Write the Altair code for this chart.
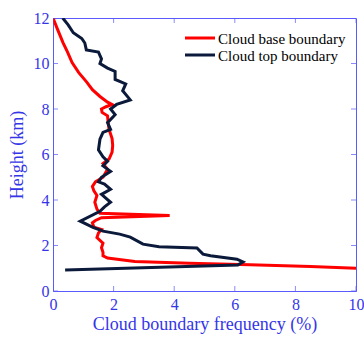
import altair as alt
import pandas as pd

# Cloud base boundary profile (height in km, frequency in %)
base_height = [12.0, 11.5, 10.92, 10.5, 10.04, 9.6, 9.17, 8.85, 8.55, 8.3, 8.2, 8.1, 8.0,
               7.85, 7.7, 7.4, 7.1, 6.7, 6.4, 6.1, 5.8, 5.6, 5.35, 5.0, 4.8, 4.6, 4.4,
               4.2, 3.9, 3.6, 3.42, 3.32, 3.22, 3.1, 3.0, 2.8, 2.7, 2.55, 2.35, 2.1,
               1.9, 1.7, 1.55, 1.45, 1.3, 1.22, 1.15, 1.08, 1.0]
base_freq = [0.0, 0.15, 0.33, 0.48, 0.63, 0.85, 1.12, 1.3, 1.55, 1.8, 1.95, 1.75, 1.6,
             1.62, 1.8, 1.82, 1.85, 1.95, 1.97, 1.95, 1.85, 1.65, 1.8, 1.65, 1.4, 1.3, 1.35,
             1.45, 1.38, 1.45, 1.55, 3.85, 1.6, 1.4, 1.3, 1.35, 1.6, 1.5, 1.45, 1.65,
             1.6, 1.65, 1.65, 1.8, 2.7, 4.5, 6.5, 8.5, 10.0]

# Cloud top boundary profile
top_height = [12.0, 11.7, 11.35, 11.1, 10.9, 10.6, 10.5, 10.2, 10.0, 9.8, 9.65, 9.3, 9.1,
              8.8, 8.4, 8.2, 8.0, 7.75, 7.4, 7.1, 6.97, 6.67, 6.2, 5.9, 5.7, 5.5, 5.26,
              5.0, 4.8, 4.7, 4.47, 4.25, 3.9, 3.7, 3.5, 3.07, 2.8, 2.63, 2.5, 2.37, 2.06,
              1.95, 1.89, 1.62, 1.55, 1.4, 1.28, 1.14, 0.92]
top_freq = [0.32, 0.5, 0.67, 0.95, 1.05, 1.1, 1.5, 1.6, 1.55, 1.8, 2.05, 2.05, 2.4,
            2.3, 2.55, 2.1, 1.9, 2.05, 1.8, 1.9, 1.65, 1.55, 1.5, 1.65, 1.8, 1.65, 1.9,
            1.6, 1.5, 1.7, 1.9, 1.6, 1.9, 1.7, 1.55, 0.9, 1.32, 1.65, 2.2, 2.55, 2.97,
            3.5, 4.75, 4.95, 5.2, 6.07, 6.27, 6.1, 0.4]

series_names = ["Cloud base boundary", "Cloud top boundary"]
series_colors = ["#ff0000", "#0b1a3a"]

x_ticks = [0, 2, 4, 6, 8, 10]
y_ticks = [0, 2, 4, 6, 8, 10, 12]

AXIS_BLUE = "#5a5aff"
LABEL_BLUE = "#3535e8"
FONT = "Liberation Serif, Times New Roman, serif"

rows = []
for i, (h, v) in enumerate(zip(base_height, base_freq)):
    rows.append({"series": series_names[0], "order": i, "height": h, "freq": v})
for i, (h, v) in enumerate(zip(top_height, top_freq)):
    rows.append({"series": series_names[1], "order": i, "height": h, "freq": v})
df = pd.DataFrame(rows)

x_scale = alt.Scale(domain=[0, 10], nice=False, zero=False)
y_scale = alt.Scale(domain=[0, 12], nice=False, zero=False)
color_scale = alt.Scale(domain=series_names, range=series_colors)

lines = alt.Chart(df).mark_line(strokeWidth=3, clip=True).encode(
    x=alt.X("freq:Q", scale=x_scale,
            axis=alt.Axis(title="Cloud boundary frequency (%)", values=x_ticks,
                          labelFlush=False, labelOverlap=False,
                          labelPadding=5, titlePadding=3)),
    y=alt.Y("height:Q", scale=y_scale,
            axis=alt.Axis(title="Height (km)", values=y_ticks,
                          labelFlush=False, labelOverlap=False,
                          labelPadding=4, titlePadding=7)),
    color=alt.Color("series:N", scale=color_scale, legend=None),
    order="order:Q",
)

# Inward tick marks on all four sides of the frame
xt = pd.DataFrame({"v": x_ticks})
yt = pd.DataFrame({"v": y_ticks})
tick_style = dict(orient="vertical", size=10, thickness=1, color=AXIS_BLUE, clip=True)
bottom_ticks = alt.Chart(xt).mark_tick(**tick_style).encode(
    x=alt.X("v:Q", scale=x_scale), y=alt.datum(0, scale=y_scale))
top_ticks = alt.Chart(xt).mark_tick(**tick_style).encode(
    x=alt.X("v:Q", scale=x_scale), y=alt.datum(12, scale=y_scale))
htick_style = dict(orient="horizontal", size=10, thickness=1, color=AXIS_BLUE, clip=True)
left_ticks = alt.Chart(yt).mark_tick(**htick_style).encode(
    y=alt.Y("v:Q", scale=y_scale), x=alt.datum(0, scale=x_scale))
right_ticks = alt.Chart(yt).mark_tick(**htick_style).encode(
    y=alt.Y("v:Q", scale=y_scale), x=alt.datum(10, scale=x_scale))

# Compact in-plot legend: a stroke sample and a label per series
legend_layers = []
for i, name in enumerate(series_names):
    row_y = 20 + 17 * i
    entry = pd.DataFrame({"series": [name]})
    legend_layers.append(
        alt.Chart(entry).mark_rule(strokeWidth=3).encode(
            x=alt.value(132), x2=alt.value(162), y=alt.value(row_y),
            color=alt.Color("series:N", scale=color_scale, legend=None))
    )
    legend_layers.append(
        alt.Chart(entry).mark_text(align="left", baseline="middle", font=FONT,
                                   fontSize=15, color="black").encode(
            x=alt.value(165), y=alt.value(row_y + 1), text="series:N")
    )

chart = alt.layer(lines, bottom_ticks, top_ticks, left_ticks, right_ticks,
                  *legend_layers).properties(
    width=303,
    height=273,
    autosize=alt.AutoSizeParams(type="none"),
    padding={"left": 53, "top": 18, "right": 8, "bottom": 47},
).configure_view(
    stroke=AXIS_BLUE, strokeWidth=1
).configure_axis(
    grid=False, ticks=False, domainColor=AXIS_BLUE, domainWidth=1,
    labelFont=FONT, labelFontSize=16, labelColor=LABEL_BLUE,
    titleFont=FONT, titleFontSize=18, titleColor=LABEL_BLUE, titleFontWeight="normal",
)

chart.save("out.html", embed_options={"renderer": "svg", "actions": False})
